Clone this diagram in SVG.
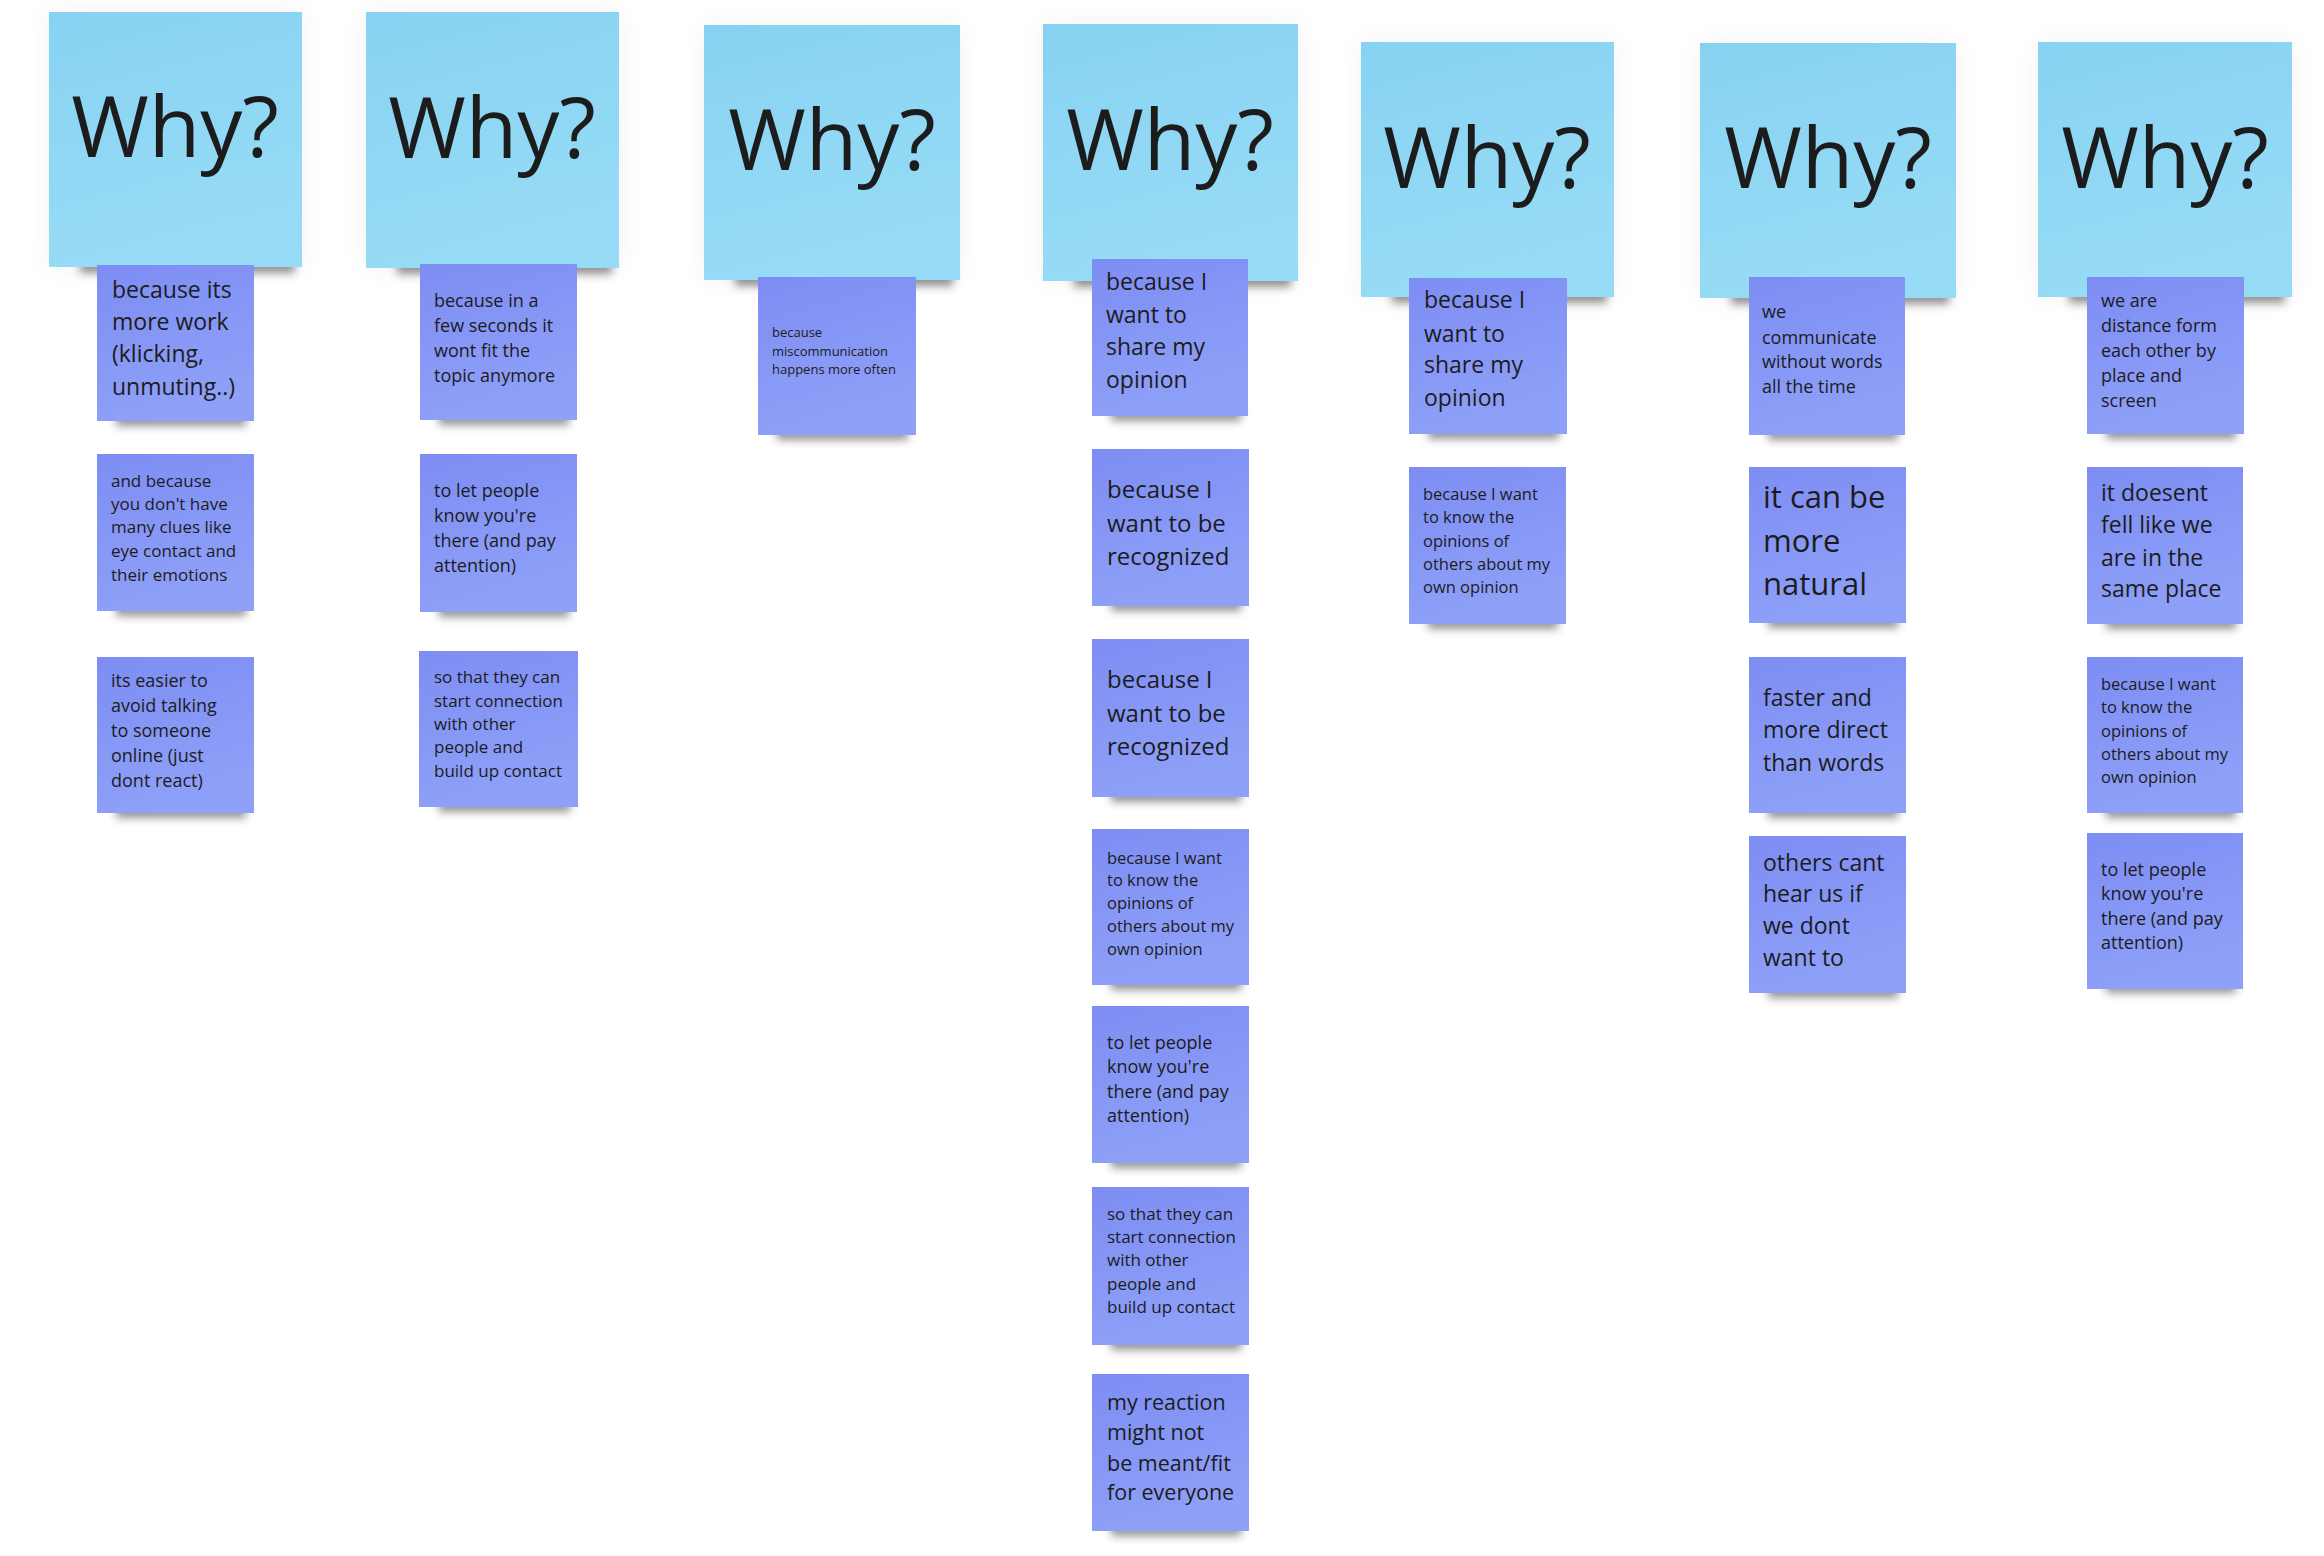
<svg xmlns="http://www.w3.org/2000/svg" width="2324" height="1556" viewBox="0 0 2324 1556">
<style>
.t{font-family:"Open Sans","Noto Sans","Liberation Sans",sans-serif;fill:#1c1c1c}
.why{font-size:84px;text-anchor:middle}
.bl{fill:url(#gb)}
.pu{fill:url(#gp)}
.sh{fill:#2a2a2a;opacity:.5;filter:url(#blur)}
.halo{fill:#000;opacity:.05;filter:url(#halo)}
</style>
<defs>
<linearGradient id="gb" x1="0" y1="0" x2="0.25" y2="1">
<stop offset="0" stop-color="#87D2F2"/><stop offset="1" stop-color="#97DCF6"/>
</linearGradient>
<linearGradient id="gp" x1="0" y1="0" x2="0.3" y2="1">
<stop offset="0" stop-color="#7D8DF3"/><stop offset="1" stop-color="#8FA0F8"/>
</linearGradient>
<filter id="blur" x="-20%" y="-100%" width="140%" height="300%"><feGaussianBlur stdDeviation="4"/></filter>
<filter id="halo" x="-30%" y="-30%" width="160%" height="160%"><feGaussianBlur stdDeviation="14"/></filter>
</defs>
<rect width="2324" height="1556" fill="#ffffff"/>
<g id="connectors"/>

<!-- Why notes -->
<g id="why1"><rect class="halo" x="49" y="12" width="253" height="255"/><rect class="sh" x="80" y="259" width="215" height="14"/><rect class="bl" x="49" y="12" width="253" height="255"/><text class="t why" x="175" y="157">Why?</text></g>
<g id="why2"><rect class="halo" x="366" y="12" width="253" height="256"/><rect class="sh" x="397" y="260" width="215" height="14"/><rect class="bl" x="366" y="12" width="253" height="256"/><text class="t why" x="492" y="158">Why?</text></g>
<g id="why3"><rect class="halo" x="704" y="25" width="256" height="255"/><rect class="sh" x="735" y="272" width="218" height="14"/><rect class="bl" x="704" y="25" width="256" height="255"/><text class="t why" x="832" y="170">Why?</text></g>
<g id="why4"><rect class="halo" x="1043" y="24" width="255" height="257"/><rect class="sh" x="1074" y="273" width="217" height="14"/><rect class="bl" x="1043" y="24" width="255" height="257"/><text class="t why" x="1170" y="170">Why?</text></g>
<g id="why5"><rect class="halo" x="1361" y="42" width="253" height="255"/><rect class="sh" x="1392" y="289" width="215" height="14"/><rect class="bl" x="1361" y="42" width="253" height="255"/><text class="t why" x="1487" y="188">Why?</text></g>
<g id="why6"><rect class="halo" x="1700" y="43" width="256" height="255"/><rect class="sh" x="1731" y="290" width="218" height="14"/><rect class="bl" x="1700" y="43" width="256" height="255"/><text class="t why" x="1828" y="188">Why?</text></g>
<g id="why7"><rect class="halo" x="2038" y="42" width="254" height="255"/><rect class="sh" x="2069" y="289" width="216" height="14"/><rect class="bl" x="2038" y="42" width="254" height="255"/><text class="t why" x="2165" y="188">Why?</text></g>

<!-- Column 1 -->
<g id="n1a"><rect class="sh" x="116" y="413" width="130" height="13"/><rect class="pu" x="97" y="265" width="157" height="156"/><text class="t" font-size="23"><tspan x="112" y="298">because its</tspan><tspan x="112" y="330">more work</tspan><tspan x="112" y="362">(klicking,</tspan><tspan x="112" y="395">unmuting..)</tspan></text></g>
<g id="n1b"><rect class="sh" x="116" y="603" width="130" height="13"/><rect class="pu" x="97" y="454" width="157" height="157"/><text class="t" font-size="17"><tspan x="111" y="487">and because</tspan><tspan x="111" y="510">you don't have</tspan><tspan x="111" y="533">many clues like</tspan><tspan x="111" y="557">eye contact and</tspan><tspan x="111" y="581">their emotions</tspan></text></g>
<g id="n1c"><rect class="sh" x="116" y="805" width="130" height="13"/><rect class="pu" x="97" y="657" width="157" height="156"/><text class="t" font-size="18"><tspan x="111" y="687">its easier to</tspan><tspan x="111" y="712">avoid talking</tspan><tspan x="111" y="737">to someone</tspan><tspan x="111" y="762">online (just</tspan><tspan x="111" y="787">dont react)</tspan></text></g>

<!-- Column 2 -->
<g id="n2a"><rect class="sh" x="439" y="412" width="130" height="13"/><rect class="pu" x="420" y="264" width="157" height="156"/><text class="t" font-size="18"><tspan x="434" y="307">because in a</tspan><tspan x="434" y="332">few seconds it</tspan><tspan x="434" y="357">wont fit the</tspan><tspan x="434" y="382">topic anymore</tspan></text></g>
<g id="n2b"><rect class="sh" x="439" y="604" width="130" height="13"/><rect class="pu" x="420" y="454" width="157" height="158"/><text class="t" font-size="18"><tspan x="434" y="497">to let people</tspan><tspan x="434" y="522">know you're</tspan><tspan x="434" y="547">there (and pay</tspan><tspan x="434" y="572">attention)</tspan></text></g>
<g id="n2c"><rect class="sh" x="439" y="799" width="131" height="13"/><rect class="pu" x="419" y="651" width="159" height="156"/><text class="t" font-size="17"><tspan x="434" y="683">so that they can</tspan><tspan x="434" y="707">start connection</tspan><tspan x="434" y="730">with other</tspan><tspan x="434" y="753">people and</tspan><tspan x="434" y="777">build up contact</tspan></text></g>

<!-- Column 3 -->
<g id="n3a"><rect class="sh" x="777" y="427" width="131" height="13"/><rect class="pu" x="758" y="277" width="158" height="158"/><text class="t" font-size="13"><tspan x="772" y="337">because</tspan><tspan x="772" y="356">miscommunication</tspan><tspan x="772" y="374">happens more often</tspan></text></g>

<!-- Column 4 -->
<g id="n4a"><rect class="sh" x="1111" y="408" width="130" height="13"/><rect class="pu" x="1092" y="259" width="156" height="157"/><text class="t" font-size="23"><tspan x="1106" y="290">because I</tspan><tspan x="1106" y="323">want to</tspan><tspan x="1106" y="355">share my</tspan><tspan x="1106" y="388">opinion</tspan></text></g>
<g id="n4b"><rect class="sh" x="1111" y="598" width="130" height="13"/><rect class="pu" x="1092" y="449" width="157" height="157"/><text class="t" font-size="24"><tspan x="1107" y="498">because I</tspan><tspan x="1107" y="532">want to be</tspan><tspan x="1107" y="565">recognized</tspan></text></g>
<g id="n4c"><rect class="sh" x="1111" y="789" width="130" height="13"/><rect class="pu" x="1092" y="639" width="157" height="158"/><text class="t" font-size="24"><tspan x="1107" y="688">because I</tspan><tspan x="1107" y="722">want to be</tspan><tspan x="1107" y="755">recognized</tspan></text></g>
<g id="n4d"><rect class="sh" x="1111" y="977" width="130" height="13"/><rect class="pu" x="1092" y="829" width="157" height="156"/><text class="t" font-size="16.5"><tspan x="1107" y="864">because I want</tspan><tspan x="1107" y="886">to know the</tspan><tspan x="1107" y="909">opinions of</tspan><tspan x="1107" y="932">others about my</tspan><tspan x="1107" y="955">own opinion</tspan></text></g>
<g id="n4e"><rect class="sh" x="1111" y="1155" width="130" height="13"/><rect class="pu" x="1092" y="1006" width="157" height="157"/><text class="t" font-size="18"><tspan x="1107" y="1049">to let people</tspan><tspan x="1107" y="1073">know you're</tspan><tspan x="1107" y="1098">there (and pay</tspan><tspan x="1107" y="1122">attention)</tspan></text></g>
<g id="n4f"><rect class="sh" x="1111" y="1337" width="130" height="13"/><rect class="pu" x="1092" y="1187" width="157" height="158"/><text class="t" font-size="17"><tspan x="1107" y="1220">so that they can</tspan><tspan x="1107" y="1243">start connection</tspan><tspan x="1107" y="1266">with other</tspan><tspan x="1107" y="1290">people and</tspan><tspan x="1107" y="1313">build up contact</tspan></text></g>
<g id="n4g"><rect class="sh" x="1111" y="1523" width="130" height="13"/><rect class="pu" x="1092" y="1374" width="157" height="157"/><text class="t" font-size="21.5"><tspan x="1107" y="1410">my reaction</tspan><tspan x="1107" y="1440">might not</tspan><tspan x="1107" y="1471">be meant/fit</tspan><tspan x="1107" y="1500">for everyone</tspan></text></g>

<!-- Column 5 -->
<g id="n5a"><rect class="sh" x="1428" y="426" width="131" height="13"/><rect class="pu" x="1409" y="278" width="158" height="156"/><text class="t" font-size="23"><tspan x="1424" y="308">because I</tspan><tspan x="1424" y="342">want to</tspan><tspan x="1424" y="373">share my</tspan><tspan x="1424" y="406">opinion</tspan></text></g>
<g id="n5b"><rect class="sh" x="1428" y="616" width="130" height="13"/><rect class="pu" x="1409" y="467" width="157" height="157"/><text class="t" font-size="16.5"><tspan x="1423" y="500">because I want</tspan><tspan x="1423" y="523">to know the</tspan><tspan x="1423" y="547">opinions of</tspan><tspan x="1423" y="570">others about my</tspan><tspan x="1423" y="593">own opinion</tspan></text></g>

<!-- Column 6 -->
<g id="n6a"><rect class="sh" x="1768" y="427" width="130" height="13"/><rect class="pu" x="1749" y="277" width="156" height="158"/><text class="t" font-size="18"><tspan x="1762" y="318">we</tspan><tspan x="1762" y="344">communicate</tspan><tspan x="1762" y="368">without words</tspan><tspan x="1762" y="393">all the time</tspan></text></g>
<g id="n6b"><rect class="sh" x="1768" y="615" width="130" height="13"/><rect class="pu" x="1749" y="467" width="157" height="156"/><text class="t" font-size="31"><tspan x="1763" y="508">it can be</tspan><tspan x="1763" y="552">more</tspan><tspan x="1763" y="595">natural</tspan></text></g>
<g id="n6c"><rect class="sh" x="1768" y="805" width="130" height="13"/><rect class="pu" x="1749" y="657" width="157" height="156"/><text class="t" font-size="23"><tspan x="1763" y="706">faster and</tspan><tspan x="1763" y="738">more direct</tspan><tspan x="1763" y="771">than words</tspan></text></g>
<g id="n6d"><rect class="sh" x="1768" y="985" width="130" height="13"/><rect class="pu" x="1749" y="836" width="157" height="157"/><text class="t" font-size="23"><tspan x="1763" y="871">others cant</tspan><tspan x="1763" y="902">hear us if</tspan><tspan x="1763" y="934">we dont</tspan><tspan x="1763" y="966">want to</tspan></text></g>

<!-- Column 7 -->
<g id="n7a"><rect class="sh" x="2106" y="426" width="130" height="13"/><rect class="pu" x="2087" y="277" width="157" height="157"/><text class="t" font-size="18"><tspan x="2101" y="307">we are</tspan><tspan x="2101" y="332">distance form</tspan><tspan x="2101" y="357">each other by</tspan><tspan x="2101" y="382">place and</tspan><tspan x="2101" y="407">screen</tspan></text></g>
<g id="n7b"><rect class="sh" x="2106" y="616" width="130" height="13"/><rect class="pu" x="2087" y="467" width="156" height="157"/><text class="t" font-size="23"><tspan x="2101" y="501">it doesent</tspan><tspan x="2101" y="533">fell like we</tspan><tspan x="2101" y="566">are in the</tspan><tspan x="2101" y="597">same place</tspan></text></g>
<g id="n7c"><rect class="sh" x="2106" y="805" width="130" height="13"/><rect class="pu" x="2087" y="657" width="156" height="156"/><text class="t" font-size="16.5"><tspan x="2101" y="690">because I want</tspan><tspan x="2101" y="713">to know the</tspan><tspan x="2101" y="737">opinions of</tspan><tspan x="2101" y="760">others about my</tspan><tspan x="2101" y="783">own opinion</tspan></text></g>
<g id="n7d"><rect class="sh" x="2106" y="980" width="130" height="13"/><rect class="pu" x="2087" y="833" width="156" height="156"/><text class="t" font-size="18"><tspan x="2101" y="876">to let people</tspan><tspan x="2101" y="900">know you're</tspan><tspan x="2101" y="925">there (and pay</tspan><tspan x="2101" y="949">attention)</tspan></text></g>
</svg>
